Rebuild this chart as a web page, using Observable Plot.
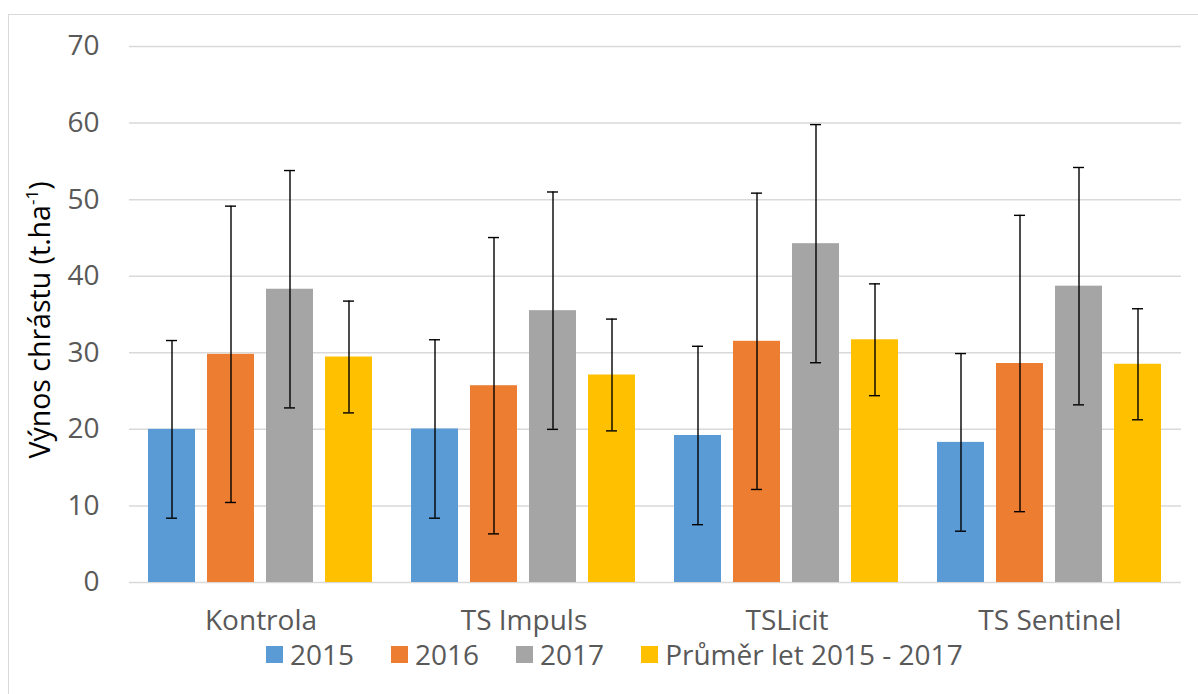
<!DOCTYPE html>
<html>
<head>
<meta charset="utf-8">
<script src="https://cdn.jsdelivr.net/npm/d3@7"></script>
<script src="https://cdn.jsdelivr.net/npm/@observablehq/plot@0.6"></script>
<style>
  html, body { margin: 0; padding: 0; background: #fff; overflow: hidden; }
  #wrap { position: relative; width: 1198px; height: 694px; overflow: hidden; font-family: "Open Sans", sans-serif; }
  #frame { position: absolute; left: 8px; top: 14px; width: 1400px; height: 900px; border-top: 1.5px solid #d9d9d9; border-left: 1.5px solid #d9d9d9; }
  #chart { position: absolute; left: 0; top: 0; }
  #ylabel { position: absolute; left: 39px; top: 320px; transform: translate(-50%, -50%) rotate(-90deg); white-space: nowrap; font-size: 28.5px; color: #000; font-family: "Open Sans", sans-serif; }
  #ylabel sup { font-size: 17px; vertical-align: 12px; line-height: 0; }
  #legend { position: absolute; left: 266px; top: 643px; height: 36px; display: flex; align-items: center; }
  #legend [class$="-swatch"] { margin-right: 37px !important; }
  #legend [class$="-swatch"] > svg { margin-right: 7px !important; }
  #legend div, #legend span { font-size: 28px !important; font-family: "Open Sans", sans-serif !important; color: #595959 !important; }
</style>
</head>
<body>
<div id="wrap">
  <div id="frame"></div>
  <div id="chart"></div>
  <div id="ylabel">Výnos chrástu (t.ha<sup>-1</sup>)</div>
  <div id="legend"></div>
</div>
<script>
const categories = ["Kontrola", "TS Impuls", "TSLicit", "TS Sentinel"];
const series = ["2015", "2016", "2017", "Průměr let 2015 - 2017"];
const colors = ["#5B9BD5", "#ED7D31", "#A5A5A5", "#FFC000"];
const yTicks = [0, 10, 20, 30, 40, 50, 60, 70];

const v2015 = [20.0, 20.05, 19.2, 18.3];
const v2016 = [29.8, 25.7, 31.5, 28.6];
const v2017 = [38.3, 35.5, 44.25, 38.7];
const vAvg  = [29.45, 27.1, 31.7, 28.5];

const e2015 = [11.6, 11.65, 11.65, 11.6];
const e2016 = [19.35, 19.35, 19.35, 19.35];
const e2017 = [15.5, 15.5, 15.55, 15.5];
const eAvg  = [7.3, 7.3, 7.3, 7.25];

const values = [v2015, v2016, v2017, vAvg];
const errs = [e2015, e2016, e2017, eAvg];

const data = categories.flatMap((c, i) =>
  series.map((s, j) => ({category: c, series: s, value: values[j][i], err: errs[j][i]}))
);

const chart = Plot.plot({
  width: 1198,
  height: 645,
  marginTop: 46,
  marginBottom: 63,
  marginLeft: 128,
  marginRight: 16,
  style: {fontFamily: "'Open Sans', sans-serif", fontSize: "28px", color: "#595959", background: "transparent", overflow: "visible"},
  fx: {domain: categories, padding: 0, label: null, axis: "bottom", tickSize: 0, tickPadding: 28},
  x: {domain: series, paddingInner: 0.2, paddingOuter: 0.303, axis: null},
  y: {domain: [0, 70], ticks: yTicks, tickSize: 0, tickPadding: 30, label: null},
  color: {domain: series, range: colors},
  marks: [
    Plot.ruleY(yTicks, {stroke: "#d9d9d9", strokeWidth: 1.5}),
    Plot.barY(data, {fx: "category", x: "series", y: "value", fill: "series"}),
    Plot.ruleX(data, {fx: "category", x: "series", y1: d => d.value - d.err, y2: d => d.value + d.err, stroke: "#000", strokeWidth: 1.4}),
    Plot.tickY(data, {fx: "category", x: "series", y: d => d.value - d.err, stroke: "#000", strokeWidth: 1.4, insetLeft: 18, insetRight: 18}),
    Plot.tickY(data, {fx: "category", x: "series", y: d => d.value + d.err, stroke: "#000", strokeWidth: 1.4, insetLeft: 18, insetRight: 18})
  ]
});
document.getElementById("chart").appendChild(chart);

const legend = Plot.legend({
  color: {type: "ordinal", domain: series, range: colors},
  legend: "swatches",
  swatchSize: 17,
  className: "lg",
  style: {fontSize: "28px", fontFamily: "'Open Sans', sans-serif", color: "#595959"}
});
document.getElementById("legend").appendChild(legend);
</script>
</body>
</html>
